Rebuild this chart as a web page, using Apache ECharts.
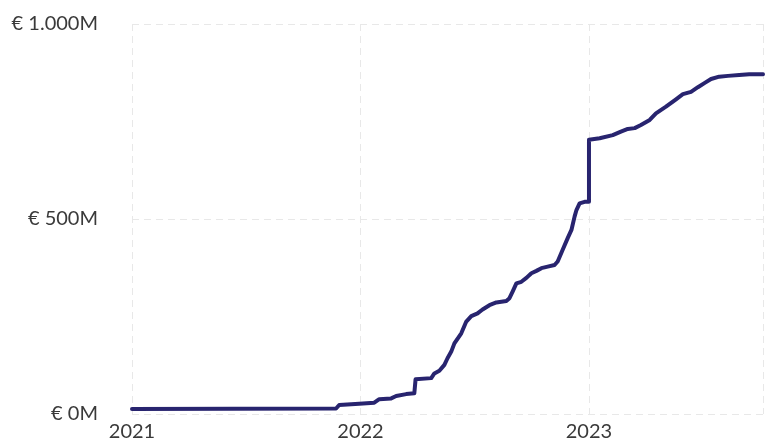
<!DOCTYPE html>
<html>
<head>
<meta charset="utf-8">
<script src="https://cdn.jsdelivr.net/npm/echarts@6/dist/echarts.min.js"></script>
<style>
  html, body { margin: 0; padding: 0; background: #fff; }
  #chart { width: 766px; height: 444px; }
</style>
</head>
<body>
<div id="chart"></div>
<script>
// cumulative amount (M EUR) over time
const dates = [
  '2021-01-01', '2021-11-23', '2021-11-28', '2021-12-30', '2022-01-23', '2022-01-31',
  '2022-02-19', '2022-02-27', '2022-03-15', '2022-03-28', '2022-03-30', '2022-04-24',
  '2022-04-29', '2022-05-07', '2022-05-15', '2022-05-20', '2022-05-26', '2022-05-31',
  '2022-06-11', '2022-06-19', '2022-06-27', '2022-07-07', '2022-07-15', '2022-07-26',
  '2022-08-06', '2022-08-22', '2022-08-27', '2022-09-01', '2022-09-07', '2022-09-15',
  '2022-09-23', '2022-10-01', '2022-10-09', '2022-10-17', '2022-10-27', '2022-11-07',
  '2022-11-12', '2022-11-20', '2022-11-28', '2022-12-04', '2022-12-09', '2022-12-12',
  '2022-12-17', '2022-12-25', '2023-01-01', '2023-01-01', '2023-01-18', '2023-02-08',
  '2023-02-21', '2023-03-04', '2023-03-15', '2023-03-25', '2023-04-08', '2023-04-18',
  '2023-05-04', '2023-05-20', '2023-05-31', '2023-06-13', '2023-06-24', '2023-07-05',
  '2023-07-15', '2023-07-28', '2023-08-11', '2023-08-29', '2023-09-14', '2023-10-06'
]
const amounts = [
  13, 14, 23, 26, 29, 38,
  40, 46, 51, 53, 89, 92,
  104, 111, 126, 143, 160, 181,
  207, 237, 251, 258, 268, 279,
  286, 290, 297, 314, 335, 339,
  349, 361, 367, 374, 378, 382,
  391, 421, 451, 472, 506, 523,
  540, 544, 544, 703, 707, 715,
  724, 731, 733, 741, 754, 771,
  788, 807, 820, 826, 838, 849,
  859, 865, 867, 869, 871, 871
]
const yearLabels = ['2021', '2022', '2023']
const yTicks = [0, 500, 1000]

const DAY = 86400000
const start = Date.UTC(2021, 0, 1)
const toDay = d => {
  const [y, m, dd] = d.split('-').map(Number)
  return (Date.UTC(y, m - 1, dd) - start) / DAY
}
const seriesData = dates.map((d, i) => [toDay(d), amounts[i]])
const lastDay = seriesData[seriesData.length - 1][0]

const fmtM = v => '€ ' + v.toLocaleString('de-DE') + 'M'

const myChart = echarts.init(document.getElementById('chart'))

const textColor = '#3a3a3a'
const gridColor = '#e8e8e8'

const option = {
  animation: false,
  grid: { left: 132, right: 1, top: 24, bottom: 30 },
  xAxis: {
    type: 'value',
    min: 0,
    max: lastDay,
    interval: 365,
    axisLine: { show: false },
    axisTick: { show: false },
    axisLabel: {
      color: textColor,
      fontFamily: 'Lato',
      fontSize: 20,
      margin: 8,
      formatter: v => (v % 365 === 0 ? yearLabels[v / 365] || '' : '')
    },
    splitLine: {
      show: true,
      lineStyle: { color: gridColor, type: [7, 5], width: 1 }
    }
  },
  yAxis: {
    type: 'value',
    min: yTicks[0],
    max: yTicks[yTicks.length - 1],
    interval: 500,
    axisLine: { show: false },
    axisTick: { show: false },
    axisLabel: {
      color: textColor,
      fontFamily: 'Lato',
      fontSize: 20,
      margin: 34,
      formatter: v => fmtM(v)
    },
    splitLine: {
      lineStyle: { color: gridColor, type: [7, 5], width: 1 }
    }
  },
  series: [
    {
      type: 'line',
      data: seriesData,
      showSymbol: false,
      lineStyle: { color: '#28246f', width: 4, cap: 'round', join: 'round' }
    }
  ]
}

myChart.setOption(option)
</script>
</body>
</html>
